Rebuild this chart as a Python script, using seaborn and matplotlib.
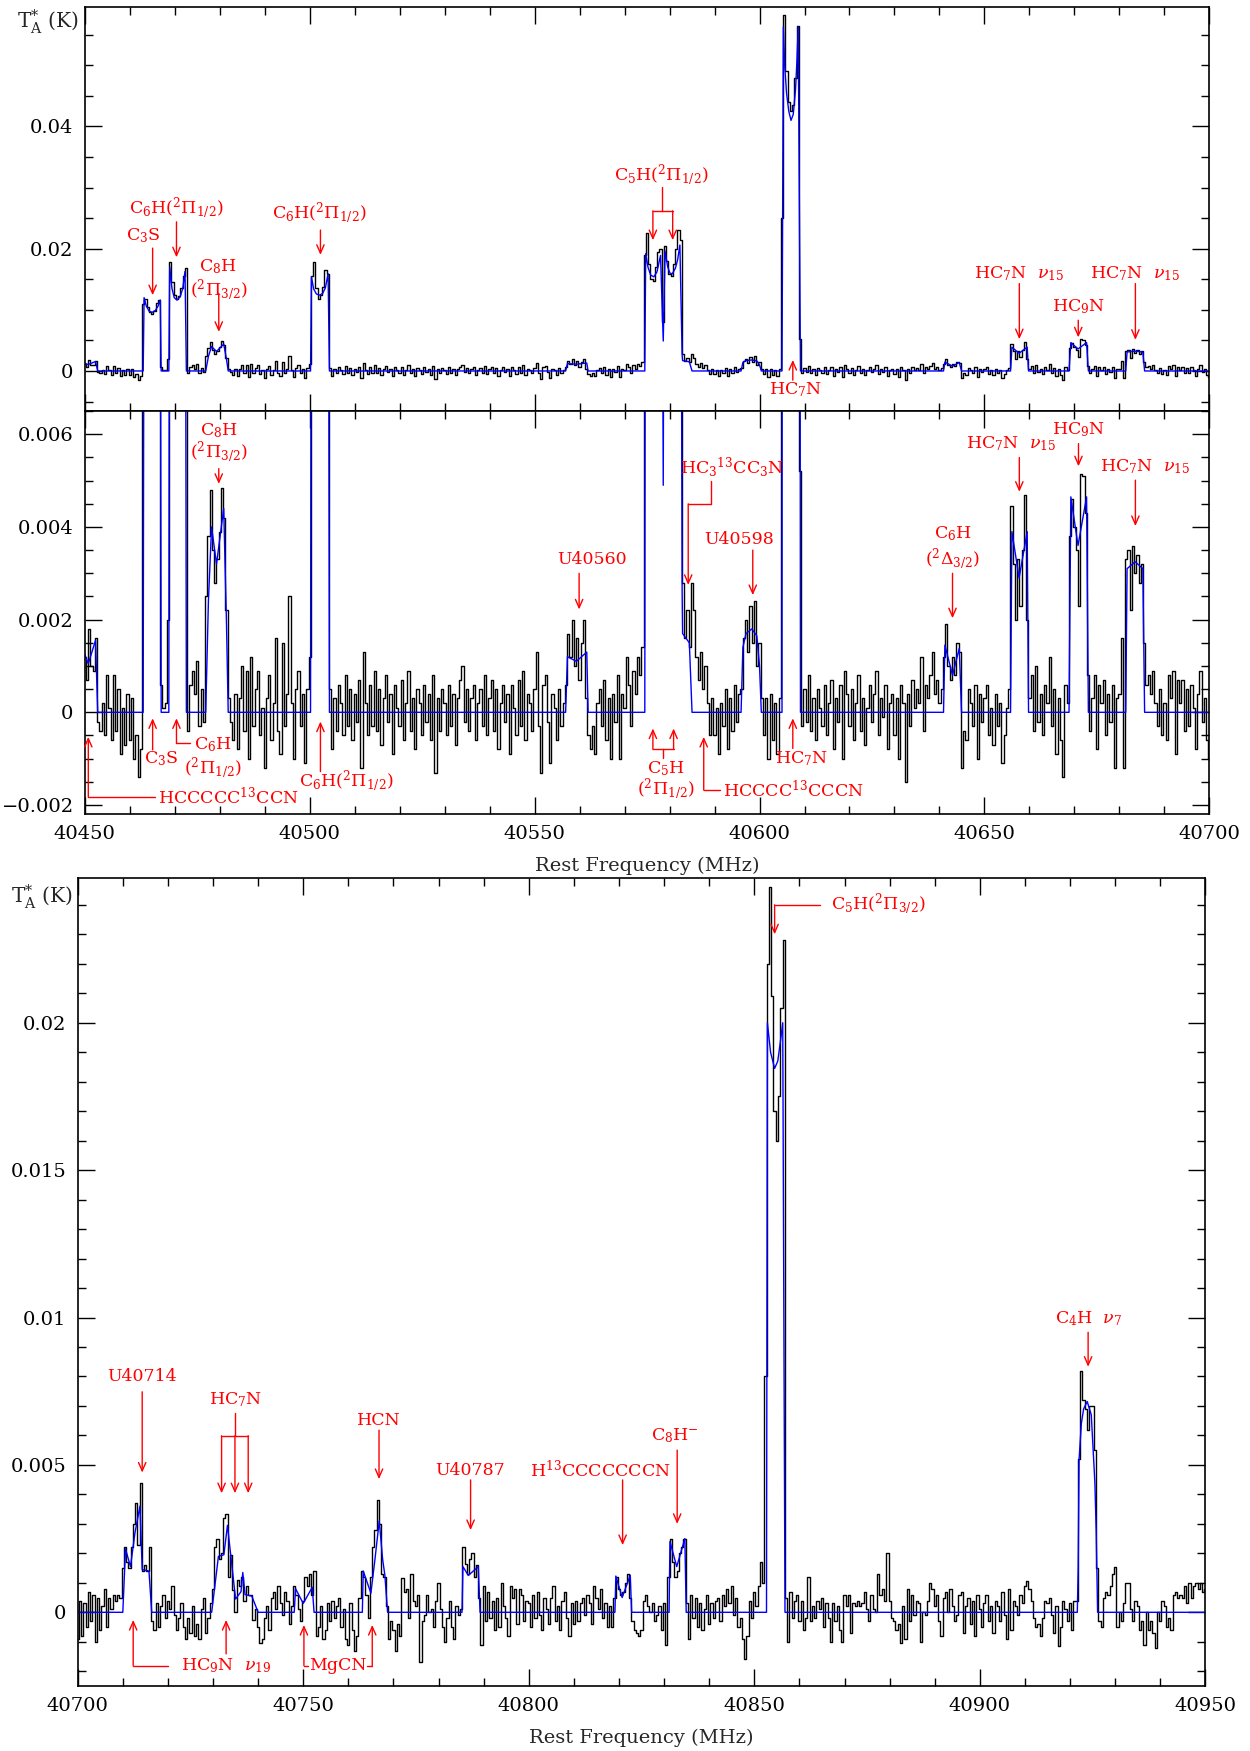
import numpy as np
import matplotlib
matplotlib.use("Agg")
import matplotlib.pyplot as plt
from matplotlib.ticker import MultipleLocator, FuncFormatter
import seaborn as sns

# ---------------- data (antenna temperature in mK) ----------------
CHAN_WIDTH_MHZ = 0.5
START_1 = 40450.0
START_2 = 40700.0

obs1_mK = [
    1.2, 0.7, 1.8, 1.0, 0.9, 1.6, -0.2, -0.4, 0.2, -0.5,
    0.8, 0.1, -0.6, 0.8, -0.4, 0.5, -0.9, 0.1, -0.7, 0.4,
    -0.6, 0.3, -1.0, -0.5, -1.4, -0.8, 11.0, 11.8, 10.5, 9.6,
    9.3, 9.8, 11.2, 11.6, 0.6, 0.1, 0.2, 2.0, 17.8, 14.5,
    12.5, 11.8, 12.2, 13.6, 15.5, 16.8, -0.4, 0.6, 0.9, 0.4,
    1.1, -0.3, 0.5, -0.2, 2.5, 3.8, 4.8, 3.5, 2.8, 3.3,
    3.9, 4.85, 4.2, 2.2, 0.3, -0.2, -0.6, 0.4, -0.8, 0.3,
    1.0, -0.4, 0.9, -1.0, 1.2, -0.3, 0.5, 0.9, -0.5, 0.1,
    -1.2, 0.3, 0.8, -0.6, 0.2, 1.6, -0.4, -0.9, 1.5, -0.3,
    0.4, 2.5, 0.2, -1.0, 0.5, 0.9, -0.3, 0.4, -1.1, 0.5,
    1.2, 15.5, 17.8, 13.5, 11.8, 12.5, 13.8, 16.5, 15.8, 0.5,
    -0.8, 0.3, -0.4, 0.6, 0.2, -0.5, 0.8, -0.3, 0.5, -0.6,
    0.4, -0.2, 0.7, -1.2, 1.3, 0.2, -0.5, 0.6, -0.3, 0.9,
    -0.4, 0.5, -0.7, 0.3, 0.8, -0.2, 0.4, -0.9, 0.6, 0.1,
    -0.3, 0.7, -0.6, 0.2, 0.9, -0.4, 0.3, -0.8, 0.5, 0.2,
    -0.5, 0.6, -0.2, 0.4, -0.6, 0.8, -1.3, 0.3, -0.4, 0.5,
    0.2, -0.5, 0.6, -0.3, 0.4, -0.7, 0.3, 0.7, 1.0, -0.2,
    0.5, -0.4, 0.3, 0.6, -0.6, 0.2, 0.5, -0.3, 0.8, -0.5,
    0.3, 0.7, -0.4, 0.5, -0.8, 0.2, 0.6, -0.2, 0.4, -0.9,
    0.6, 0.1, -0.5, 0.7, -0.3, 0.9, -0.6, 0.4, 0.2, -0.4,
    0.5, 1.3, -0.3, -1.3, 0.6, 0.8, -0.2, -1.1, 0.4, 0.1,
    -0.6, 0.5, -0.3, 0.2, 0.6, 1.7, 1.2, 2.0, 1.0, 1.6,
    0.7, 1.5, 2.0, 0.3, -0.5, -0.8, -0.3, -0.9, 0.2, 0.5,
    -0.3, 0.7, -0.6, 0.3, -1.0, 0.4, -0.2, 0.8, -1.0, 0.4,
    0.1, 1.2, 0.6, -0.3, 0.9, 0.4, 1.2, 0.8, 1.4, 19.0,
    22.5, 17.5, 15.0, 14.8, 17.0, 19.5, 20.0, 8.0, 20.5, 18.0,
    15.8, 15.5, 17.5, 20.0, 23.0, 21.5, 2.8, 1.6, 2.2, 1.4,
    2.8, 2.2, 1.2, 0.7, 1.3, 0.5, 1.0, 0.2, -0.5, 0.3,
    -0.5, 0.1, -0.9, 0.2, -0.3, 0.5, -0.8, 0.3, -0.4, 0.6,
    -0.2, 0.4, 0.5, 1.6, 2.0, 1.3, 2.3, 1.5, 2.4, 1.0,
    1.5, 0.3, -0.5, 0.3, -1.0, 0.4, -0.6, 0.2, -0.9, 0.3,
    25.0, 58.2, 49.0, 44.0, 42.5, 43.5, 48.0, 56.5, 5.2, -0.3,
    0.5, -0.2, 0.8, -0.4, 0.3, -0.6, 0.5, 0.1, -0.3, 0.6,
    -0.5, 0.2, 0.7, -0.8, 0.3, -0.2, 0.6, -1.0, 0.9, 0.4,
    -0.3, 0.5, -0.6, 0.2, 0.8, -0.4, 0.3, -0.7, 0.1, 0.6,
    -0.2, 0.4, 0.9, -0.5, 0.3, -0.1, 0.6, -0.8, 0.2, 0.4,
    -0.5, 0.3, -1.0, 0.6, 0.2, -1.5, 0.4, -0.3, 0.7, 0.1,
    0.5, 0.2, 1.2, -0.4, 0.6, 0.3, 0.8, 1.3, 0.4, 0.7,
    0.2, 0.5, 1.2, 1.9, 1.0, 0.7, 1.2, 0.8, 1.5, 1.3,
    -1.2, -0.4, -0.6, 0.5, 0.2, -0.3, 0.6, -1.0, 0.4, -0.2,
    0.3, 0.6, -0.5, 0.1, -0.7, 0.4, -0.3, 0.2, -1.1, -0.5,
    0.1, 0.5, 4.45, 3.2, 2.0, 3.3, 2.3, 3.5, 4.7, 2.0,
    0.3, 0.8, -0.4, 1.0, -0.2, 0.4, -0.5, 0.6, 0.2, 1.2,
    -0.3, 0.5, -0.9, 0.3, -0.6, -1.4, 0.6, 0.2, 3.8, 4.6,
    4.0, 3.5, 2.3, 5.15, 5.1, 4.3, 0.8, -0.4, 0.3, 0.8,
    -0.8, 0.6, 0.2, 0.7, -0.5, 0.4, -0.2, 0.6, -1.2, 0.3,
    0.4, 1.6, -1.2, 3.3, 3.5, 2.2, 3.6, 3.0, 3.4, 2.8,
    3.2, 1.5, 0.6, 0.8, 0.4, 0.9, 0.2, -0.3, 0.5, -0.5,
    0.2, -0.6, 0.8, 0.3, 0.9, -0.9, 0.7, 0.2, 0.7, -0.4,
    0.5, -0.3, 0.6, 0.1, -0.8, 0.4, 0.9, -0.2, 0.3, -0.6,
    -1.0,
]

obs2_mK = [
    -0.9, 0.4, -0.8, 0.3, -0.5, 0.7, -0.3, 0.6, -1.0, 0.5,
    -0.6, 0.2, 0.8, -0.5, 0.5, 0.1, 0.6, 0.4, 0.6, 0.5,
    1.5, 2.2, 1.7, 1.5, 2.2, 3.0, 3.7, 2.3, 4.4, 1.4,
    1.6, 1.4, 2.2, -0.3, -0.6, 0.3, -0.5, 0.2, 0.6, -0.2,
    0.4, 0.1, 0.9, -0.1, -0.6, -0.2, 0.3, -0.5, -0.9, -0.2,
    -0.7, 0.2, -0.8, -0.4, -0.9, 0.1, 0.5, -0.7, -0.2, 0.3,
    0.8, 2.2, 2.5, 1.8, 2.0, 3.2, 3.35, 1.2, 1.95, 0.75,
    0.0, 1.1, 0.9, 1.2, 0.4, 0.9, 0.6, 0.6, -0.25, 0.1,
    -0.5, -1.05, -0.9, -0.2, 0.2, -0.6, 0.5, 0.7, 0.1, 0.9,
    0.3, -0.1, 0.7, 0.4, -0.4, 0.2, 0.9, 0.6, 0.1, -0.3,
    0.4, 1.2, 0.9, 1.3, 0.6, 1.4, -0.8, -0.5, 0.2, -0.9,
    -0.6, 0.3, -0.3, 0.4, -0.2, 0.2, 0.5, -0.5, 0.1, -0.9,
    -1.1, 0.3, -0.6, -1.3, -0.8, 0.5, 1.4, 1.2, 0.6, -0.2,
    1.2, 2.2, 2.8, 3.8, 3.0, 1.3, 1.2, 0.2, -0.9, -0.3,
    -0.6, -1.3, -0.4, -0.8, 1.15, 0.7, 0.8, -0.2, 1.3, 0.4,
    0.2, 0.6, -1.7, -0.3, -0.1, 0.6, 0.0, 0.1, -0.5, 0.4,
    1.0, 0.1, -0.5, -1.0, -0.2, 0.4, -0.5, -0.9, 0.2, -0.1,
    0.1, 2.2, 1.65, 1.3, 1.8, 2.0, 1.2, 1.6, 0.5, -1.1,
    0.9, -0.3, 0.7, -0.2, 0.4, -0.6, 0.5, -0.5, 1.0, 0.2,
    -0.2, -0.8, 0.9, 0.5, 0.8, -0.4, 0.8, 0.6, -0.3, 0.4,
    0.3, -0.5, 0.6, -0.2, 0.7, -0.1, -0.6, 0.5, 0.1, -0.4,
    0.5, 0.9, -0.3, 0.2, -0.6, 0.4, 0.7, -0.2, -0.8, 0.3,
    -0.4, 0.4, -0.3, 0.3, 0.5, -0.1, 0.6, 0.3, -0.4, 0.9,
    0.5, 0.1, 0.8, -0.2, 0.3, -0.5, 0.2, -0.5, 0.5, 1.2,
    0.8, 0.6, 0.7, 1.0, 1.3, 0.5, -0.3, -0.6, -0.7, -0.8,
    -0.6, 0.4, 0.6, 0.2, 0.0, 0.3, -0.3, -0.1, 0.2, -0.6,
    0.3, -1.1, 1.2, 2.5, 1.7, 1.2, 1.4, 2.0, 2.2, 2.5,
    0.3, -0.9, 0.6, -0.2, 0.5, -0.5, 0.3, -0.6, 0.1, 0.6,
    -0.4, 0.3, -0.2, 0.4, 0.5, -0.3, 0.6, 0.2, 0.8, 0.3,
    0.9, -0.1, 0.5, -0.5, -0.2, -0.9, -1.6, -0.8, 0.4, -0.2,
    0.7, 0.2, 0.9, 1.7, 1.0, 8.0, 22.0, 24.6, 20.9, 17.0,
    16.0, 17.5, 20.5, 22.8, 0.5, -1.0, 0.7, -0.2, 0.4, 0.6,
    -0.3, 0.4, -0.6, -0.2, 1.2, -0.3, 0.2, -0.2, 0.4, 0.1,
    0.5, -0.5, 0.3, -0.2, -1.0, 0.3, -0.3, 0.2, -0.6, -1.0,
    0.6, 0.2, 0.6, -0.7, 0.3, 0.2, 0.4, 0.2, 0.3, 0.7,
    0.1, -0.3, 0.6, 0.1, 0.0, 1.3, 0.6, 0.8, 0.4, 2.0,
    0.4, -0.2, -0.3, -0.6, -0.4, -1.05, 0.2, -0.9, 0.8, -0.3,
    0.6, -0.1, 0.4, 0.3, -1.0, 0.0, -0.1, 0.4, 1.0, 0.8,
    0.2, 0.6, -0.3, -0.8, 0.5, 0.7, 0.0, 0.8, 0.2, -0.3,
    -0.1, 0.6, 0.7, -0.7, 0.2, 0.5, -0.4, 0.4, -0.8, 0.6,
    0.1, -0.5, 0.3, 0.6, -0.3, 0.2, -0.7, 0.4, 0.2, -0.3,
    0.7, -0.1, -0.9, 0.8, -0.6, 0.4, 0.2, -0.1, 0.6, 0.3,
    0.9, 1.05, 0.8, 0.4, -0.2, -0.5, -0.4, -0.8, -0.2, 0.4,
    0.3, 0.5, -0.1, -0.7, 0.2, -1.15, -0.5, 0.4, 0.1, -0.3,
    0.3, -0.6, 0.4, 0.4, 5.2, 8.2, 7.2, 6.9, 6.2, 7.0,
    7.0, 5.5, 1.5, -0.3, -0.5, 0.5, 0.7, 0.6, 0.9, 1.3,
    1.55, -0.5, 0.0, -0.3, 0.3, 1.0, 1.0, 0.1, -0.3, 0.4,
    0.2, -0.6, -0.3, -1.1, 0.0, -0.6, -0.3, -0.7, -1.2, 0.0,
    -0.3, 0.4, 0.2, -0.5, -0.2, -0.6, 0.6, 0.7, 0.5, 0.6,
    0.5, 0.9, 0.3, 1.0, 0.5, 0.9, 1.0, 0.8, 1.0, 0.7,
    0.8,
]

# model fit (blue) - vertices
model1_freq = [
    40450.0, 40450.8, 40452.4, 40452.9,
    40463.0, 40463.2, 40463.7, 40464.3, 40465.0, 40465.7, 40466.3, 40466.8, 40467.0,
    40468.7, 40468.9, 40469.4, 40469.9, 40470.5, 40471.2, 40471.8, 40472.3, 40472.6,
    40476.9, 40477.5, 40478.2, 40479.3, 40480.9, 40481.5, 40481.9,
    40500.2, 40500.4, 40500.9, 40501.5, 40502.2, 40502.9, 40503.5, 40504.1, 40504.4,
    40556.9, 40557.3, 40559.3, 40561.6, 40561.9,
    40574.5, 40574.7, 40575.2, 40575.8, 40576.5, 40577.2, 40578.0, 40578.6, 40579.0,
    40579.6, 40580.1, 40580.6, 40581.3, 40581.8, 40582.3, 40582.8, 40582.9, 40584.4, 40585.0,
    40595.9, 40596.3, 40597.0, 40598.3, 40599.4, 40600.0, 40600.4,
    40605.0, 40605.3, 40605.6, 40606.0, 40606.5, 40607.0, 40607.5, 40608.0, 40608.3, 40608.6, 40609.1,
    40640.9, 40641.2, 40642.9, 40644.4, 40644.9,
    40655.8, 40656.1, 40657.7, 40659.5, 40659.8,
    40668.8, 40669.2, 40670.8, 40672.7, 40673.1,
    40681.4, 40681.7, 40683.5, 40685.2, 40685.6,
    40700.0,
]
model1_mK = [
    1.25, 1.05, 1.55, 0.0,
    0.0, 12.0, 10.6, 9.8, 9.6, 9.9, 10.6, 11.6, 0.0,
    0.0, 17.0, 13.5, 12.0, 11.6, 12.1, 13.5, 16.3, 0.0,
    0.0, 2.4, 4.0, 3.2, 4.4, 2.0, 0.0,
    0.0, 15.4, 13.4, 12.6, 12.4, 12.7, 13.6, 15.9, 0.0,
    0.0, 1.2, 1.1, 1.3, 0.0,
    0.0, 19.2, 17.0, 15.7, 15.4, 16.2, 18.9, 4.9, 19.6,
    17.0, 16.0, 15.9, 16.8, 18.2, 20.6, 2.6, 1.7, 1.5, 0.0,
    0.0, 1.4, 1.7, 1.8, 1.65, 1.0, 0.0,
    0.0, 56.3, 50.0, 45.5, 42.5, 41.0, 42.0, 46.0, 50.5, 56.3, 0.0,
    0.0, 1.45, 0.8, 1.38, 0.0,
    0.0, 3.9, 2.9, 3.9, 0.0,
    0.0, 4.65, 3.6, 4.65, 0.0,
    0.0, 3.1, 3.25, 3.1, 0.0,
    0.0,
]

model2_freq = [
    40700.0,
    40710.0, 40710.6, 40711.7, 40712.7, 40713.8, 40714.3, 40715.8, 40716.4,
    40729.7, 40731.2, 40732.4, 40733.2, 40734.1, 40735.0, 40736.2, 40736.6, 40737.1, 40738.6, 40740.0,
    40748.0, 40748.3, 40750.0, 40752.0, 40752.4,
    40763.1, 40763.3, 40765.0, 40765.9, 40766.85, 40767.6, 40768.1, 40768.7,
    40785.2, 40785.4, 40786.6, 40788.8, 40789.2,
    40819.1, 40819.3, 40820.7, 40822.5, 40822.8,
    40831.1, 40831.3, 40832.8, 40834.6, 40834.9,
    40852.7, 40852.9, 40853.6, 40854.5, 40855.2, 40855.9, 40856.3, 40856.8,
    40921.6, 40921.8, 40922.0, 40922.5, 40923.0, 40923.8, 40924.7, 40925.5, 40925.8, 40926.1,
    40950.0,
]
model2_mK = [
    0.0,
    0.0, 2.15, 1.55, 2.7, 3.6, 1.45, 1.4, 0.0,
    0.0, 1.9, 1.95, 2.95, 1.7, 0.45, 0.7, 1.35, 0.6, 0.55, 0.0,
    0.0, 0.8, 0.3, 0.85, 0.0,
    0.0, 1.4, 0.65, 1.8, 3.1, 1.8, 1.25, 0.0,
    0.0, 1.55, 1.25, 1.55, 0.0,
    0.0, 1.23, 0.5, 1.26, 0.0,
    0.0, 2.4, 1.55, 2.5, 0.0,
    0.0, 20.0, 19.0, 18.45, 18.7, 19.5, 20.0, 0.0,
    0.0, 1.5, 5.2, 6.4, 6.9, 7.15, 6.7, 4.4, 2.7, 0.0,
    0.0,
]

assert len(obs1_mK) == 501 and len(obs2_mK) == 501
assert len(model1_freq) == len(model1_mK) and len(model2_freq) == len(model2_mK)

# ---------------- styling ----------------
sns.set_style("ticks")
plt.rcParams["font.family"] = ["DejaVu Serif"]
plt.rcParams["mathtext.fontset"] = "dejavuserif"

RED = "#ff0000"
LFS = 12.5
TFS = 14

fig = plt.figure(figsize=(12.5, 17.51), dpi=100)
W, H = 1250.0, 1751.0


def axes_px(x0, x1, y0, y1):
    return fig.add_axes([x0 / W, 1 - y1 / H, (x1 - x0) / W, (y1 - y0) / H])


ax1 = axes_px(84.7, 1209.4, 7.3, 410.7)
ax2 = axes_px(84.7, 1209.4, 410.7, 814.0)
ax3 = axes_px(77.7, 1205.4, 878.3, 1686.0)


def yfmt(v, pos):
    if abs(v) < 1e-12:
        return "0"
    s = ("%.4f" % v).rstrip("0").rstrip(".")
    return s.replace("-", "\u2212")


def draw(ax, start, obs, mf, mt):
    f = start + CHAN_WIDTH_MHZ * np.arange(len(obs))
    sns.lineplot(x=f, y=np.asarray(obs) * 1e-3, ax=ax, color="black", lw=1.0,
                 drawstyle="steps-mid", estimator=None, sort=False)
    sns.lineplot(x=np.asarray(mf), y=np.asarray(mt) * 1e-3, ax=ax, color="#0000ff",
                 lw=1.0, estimator=None, sort=False)


def style(ax, xlim, ylim, ymaj, ymin, xlabels):
    ax.set_xlim(*xlim)
    ax.set_ylim(*ylim)
    ax.xaxis.set_major_locator(MultipleLocator(50))
    ax.xaxis.set_minor_locator(MultipleLocator(10))
    ax.yaxis.set_major_locator(MultipleLocator(ymaj))
    ax.yaxis.set_minor_locator(MultipleLocator(ymin))
    ax.yaxis.set_major_formatter(FuncFormatter(yfmt))
    ax.xaxis.set_major_formatter(FuncFormatter(lambda v, p: "%d" % round(v)))
    ax.tick_params(which="both", direction="in", top=True, right=True,
                   labelsize=TFS, width=1.0, colors="black")
    ax.tick_params(which="major", length=12)
    ax.tick_params(which="minor", length=6)
    ax.tick_params(axis="y", pad=8)
    ax.tick_params(axis="x", pad=8, labelbottom=xlabels)
    for sp in ax.spines.values():
        sp.set_linewidth(1.2)
        sp.set_color("black")
    ax.set_ylabel("")
    ax.set_xlabel("")


draw(ax1, START_1, obs1_mK, model1_freq, model1_mK)
draw(ax2, START_1, obs1_mK, model1_freq, model1_mK)
draw(ax3, START_2, obs2_mK, model2_freq, model2_mK)

style(ax1, (40450, 40700), (-0.0065, 0.0595), 0.02, 0.005, False)
style(ax2, (40450, 40700), (-0.002195, 0.00651), 0.002, 0.0005, True)
style(ax3, (40700, 40950), (-0.0025, 0.0249), 0.005, 0.001, True)

ax2.set_xlabel("Rest Frequency (MHz)", fontsize=TFS, labelpad=9.5)
ax3.set_xlabel("Rest Frequency (MHz)", fontsize=TFS, labelpad=9.5)
fig.text(48 / W, 1 - 22 / H, r"T$_{\rm A}^{*}$ (K)", fontsize=14.5, ha="center", va="center")
fig.text(42 / W, 1 - 897 / H, r"T$_{\rm A}^{*}$ (K)", fontsize=14.5, ha="center", va="center")


# ---------------- annotations (freq MHz, T mK) ----------------
def txt(ax, x, y, s, ha="center"):
    ax.text(x, y * 1e-3, s, color=RED, fontsize=LFS, ha=ha, va="center")


def arr(ax, x, y0, y1):
    ax.annotate("", xy=(x, y1 * 1e-3), xytext=(x, y0 * 1e-3),
                arrowprops=dict(arrowstyle="->,head_length=0.5,head_width=0.22",
                                color=RED, lw=1.0, shrinkA=0, shrinkB=0,
                                mutation_scale=12))


def seg(ax, xs, ys):
    ax.plot(xs, [v * 1e-3 for v in ys], color=RED, lw=1.0)


C6H_12 = r"C$_6$H($^2\Pi_{1/2}$)"
HC7N_15 = r"HC$_7$N  $\nu_{15}$"

# top panel
txt(ax1, 40463.0, 22.2, r"C$_3$S")
arr(ax1, 40465.1, 20.1, 12.4)
txt(ax1, 40470.3, 26.6, C6H_12)
arr(ax1, 40470.4, 24.4, 18.6)
txt(ax1, 40479.65, 17.05, r"C$_8$H")
txt(ax1, 40479.8, 13.2, r"($^2\Pi_{3/2}$)")
arr(ax1, 40479.8, 12.7, 6.4)
txt(ax1, 40502.2, 25.8, C6H_12)
arr(ax1, 40502.4, 23.05, 19.0)
txt(ax1, 40578.2, 32.0, r"C$_5$H($^2\Pi_{1/2}$)")
seg(ax1, [40578.4, 40578.4], [30.1, 26.2])
seg(ax1, [40576.3, 40580.7], [26.2, 26.2])
arr(ax1, 40576.3, 26.2, 21.4)
arr(ax1, 40580.7, 26.2, 21.4)
txt(ax1, 40608.1, -3.1, r"HC$_7$N")
arr(ax1, 40607.4, -1.5, 1.8)
txt(ax1, 40657.75, 16.0, HC7N_15)
arr(ax1, 40657.75, 14.3, 5.2)
txt(ax1, 40670.85, 10.5, r"HC$_9$N")
arr(ax1, 40670.85, 8.3, 5.5)
txt(ax1, 40683.55, 16.0, HC7N_15)
arr(ax1, 40683.55, 14.3, 5.1)

# middle panel
txt(ax2, 40479.8, 6.09, r"C$_8$H")
txt(ax2, 40479.8, 5.62, r"($^2\Pi_{3/2}$)")
arr(ax2, 40479.8, 5.26, 4.93)
txt(ax2, 40466.9, -0.99, r"C$_3$S")
arr(ax2, 40465.1, -0.81, -0.13)
seg(ax2, [40470.4, 40473.4], [-0.67, -0.67])
arr(ax2, 40470.4, -0.67, -0.13)
txt(ax2, 40478.5, -0.70, r"C$_6$H")
txt(ax2, 40478.5, -1.21, r"($^2\Pi_{1/2}$)")
txt(ax2, 40508.1, -1.50, C6H_12)
arr(ax2, 40502.4, -1.28, -0.2)
seg(ax2, [40450.8, 40465.6], [-1.83, -1.83])
arr(ax2, 40450.8, -1.83, -0.53)
txt(ax2, 40466.3, -1.83, r"HCCCCC$^{13}$CCN", ha="left")
txt(ax2, 40562.85, 3.3, "U40560")
arr(ax2, 40559.9, 3.0, 2.22)
seg(ax2, [40576.3, 40580.9], [-0.8, -0.8])
seg(ax2, [40578.6, 40578.6], [-0.8, -0.99])
arr(ax2, 40576.3, -0.8, -0.35)
arr(ax2, 40580.9, -0.8, -0.35)
txt(ax2, 40579.3, -1.21, r"C$_5$H")
txt(ax2, 40579.3, -1.66, r"($^2\Pi_{1/2}$)")
seg(ax2, [40587.6, 40591.2], [-1.68, -1.68])
arr(ax2, 40587.6, -1.68, -0.53)
txt(ax2, 40591.85, -1.68, r"HCCCC$^{13}$CCCN", ha="left")
txt(ax2, 40593.9, 5.3, r"HC$_3$$^{13}$CC$_3$N")
seg(ax2, [40589.25, 40589.25, 40584.15], [5.0, 4.5, 4.5])
arr(ax2, 40584.15, 4.5, 2.75)
txt(ax2, 40595.55, 3.72, "U40598")
arr(ax2, 40598.5, 3.5, 2.53)
txt(ax2, 40609.3, -0.99, r"HC$_7$N")
arr(ax2, 40607.4, -0.78, -0.13)
txt(ax2, 40642.9, 3.86, r"C$_6$H")
txt(ax2, 40642.9, 3.29, r"($^2\Delta_{3/2}$)")
arr(ax2, 40642.9, 3.0, 2.03)
txt(ax2, 40655.8, 5.8, HC7N_15)
arr(ax2, 40657.75, 5.5, 4.76)
txt(ax2, 40670.85, 6.1, r"HC$_9$N")
arr(ax2, 40670.9, 5.8, 5.31)
txt(ax2, 40685.6, 5.3, HC7N_15)
arr(ax2, 40683.55, 5.01, 4.02)

# bottom panel
txt(ax3, 40714.3, 8.0, "U40714")
arr(ax3, 40714.3, 7.48, 4.74)
txt(ax3, 40735.0, 7.2, r"HC$_7$N")
seg(ax3, [40734.86, 40734.86], [6.77, 5.99])
seg(ax3, [40731.9, 40737.8], [5.99, 5.99])
for xa in (40731.9, 40734.86, 40737.8):
    arr(ax3, xa, 5.99, 4.04)
txt(ax3, 40766.8, 6.5, "HCN")
arr(ax3, 40766.8, 6.18, 4.52)
seg(ax3, [40712.3, 40720.1], [-1.81, -1.81])
arr(ax3, 40712.3, -1.81, -0.26)
arr(ax3, 40732.9, -1.41, -0.26)
txt(ax3, 40732.9, -1.82, r"HC$_9$N  $\nu_{19}$")
seg(ax3, [40750.15, 40751.0], [-1.81, -1.81])
arr(ax3, 40750.15, -1.81, -0.43)
seg(ax3, [40764.2, 40765.3], [-1.81, -1.81])
arr(ax3, 40765.3, -1.81, -0.43)
txt(ax3, 40757.6, -1.82, "MgCN")
txt(ax3, 40787.1, 4.8, "U40787")
arr(ax3, 40787.1, 4.49, 2.79)
txt(ax3, 40815.8, 4.8, r"H$^{13}$CCCCCCCN")
arr(ax3, 40820.8, 4.49, 2.28)
txt(ax3, 40832.4, 6.0, r"C$_8$H$^{-}$")
arr(ax3, 40832.9, 5.5, 3.0)
seg(ax3, [40864.5, 40854.5], [24.0, 24.0])
arr(ax3, 40854.5, 24.0, 23.0)
txt(ax3, 40866.9, 24.0, r"C$_5$H($^2\Pi_{3/2}$)", ha="left")
txt(ax3, 40924.0, 9.97, r"C$_4$H  $\nu_7$")
arr(ax3, 40924.0, 9.5, 8.33)

fig.savefig("out.png", dpi=100)
